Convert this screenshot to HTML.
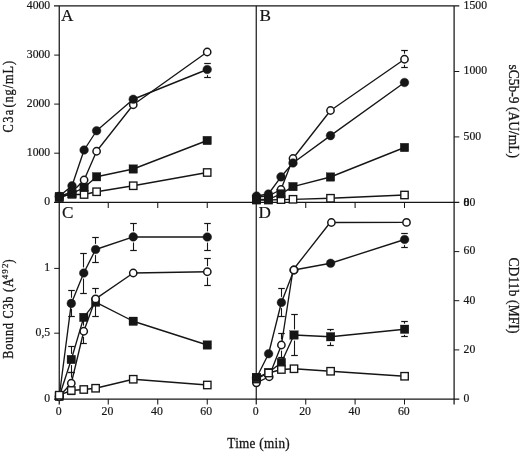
<!DOCTYPE html>
<html><head><meta charset="utf-8"><title>Figure</title>
<style>
html,body{margin:0;padding:0;background:#fff;}
svg{display:block;}
text{font-family:"Liberation Serif","DejaVu Serif",serif;fill:#161616;stroke:#161616;stroke-width:0.2px;}
text.ti{stroke-width:0.28px;}
</style></head>
<body>
<svg width="520" height="452" viewBox="0 0 520 452">
<rect x="0" y="0" width="520" height="452" fill="#fff"/>
<line x1="54.0" y1="5.95" x2="459.3" y2="5.95" stroke="#161616" stroke-width="1.2"/>
<line x1="54.0" y1="202.4" x2="459.3" y2="202.4" stroke="#161616" stroke-width="1.2"/>
<line x1="54.0" y1="399.1" x2="459.3" y2="399.1" stroke="#161616" stroke-width="1.2"/>
<line x1="59.25" y1="5.95" x2="59.25" y2="404.5" stroke="#161616" stroke-width="1.25"/>
<line x1="256.25" y1="5.95" x2="256.25" y2="404.5" stroke="#161616" stroke-width="1.2"/>
<line x1="454.1" y1="5.95" x2="454.1" y2="404.5" stroke="#161616" stroke-width="1.25"/>
<line x1="108.25" y1="202.4" x2="108.25" y2="208.0" stroke="#161616" stroke-width="1.05"/>
<line x1="108.25" y1="399.1" x2="108.25" y2="404.5" stroke="#161616" stroke-width="1.05"/>
<line x1="157.75" y1="202.4" x2="157.75" y2="208.0" stroke="#161616" stroke-width="1.05"/>
<line x1="157.75" y1="399.1" x2="157.75" y2="404.5" stroke="#161616" stroke-width="1.05"/>
<line x1="207.25" y1="202.4" x2="207.25" y2="208.0" stroke="#161616" stroke-width="1.05"/>
<line x1="207.25" y1="399.1" x2="207.25" y2="404.5" stroke="#161616" stroke-width="1.05"/>
<line x1="305.75" y1="202.4" x2="305.75" y2="208.0" stroke="#161616" stroke-width="1.05"/>
<line x1="305.75" y1="399.1" x2="305.75" y2="404.5" stroke="#161616" stroke-width="1.05"/>
<line x1="355.1" y1="202.4" x2="355.1" y2="208.0" stroke="#161616" stroke-width="1.05"/>
<line x1="355.1" y1="399.1" x2="355.1" y2="404.5" stroke="#161616" stroke-width="1.05"/>
<line x1="404.5" y1="202.4" x2="404.5" y2="208.0" stroke="#161616" stroke-width="1.05"/>
<line x1="404.5" y1="399.1" x2="404.5" y2="404.5" stroke="#161616" stroke-width="1.05"/>
<line x1="54.2" y1="55.1" x2="59.25" y2="55.1" stroke="#161616" stroke-width="1.0"/>
<line x1="54.2" y1="104.1" x2="59.25" y2="104.1" stroke="#161616" stroke-width="1.0"/>
<line x1="54.2" y1="153.2" x2="59.25" y2="153.2" stroke="#161616" stroke-width="1.0"/>
<line x1="54.2" y1="268.4" x2="59.25" y2="268.4" stroke="#161616" stroke-width="1.0"/>
<line x1="54.2" y1="333.2" x2="59.25" y2="333.2" stroke="#161616" stroke-width="1.0"/>
<line x1="454.1" y1="71.5" x2="459.3" y2="71.5" stroke="#161616" stroke-width="1.0"/>
<line x1="454.1" y1="136.9" x2="459.3" y2="136.9" stroke="#161616" stroke-width="1.0"/>
<line x1="454.1" y1="251.6" x2="459.3" y2="251.6" stroke="#161616" stroke-width="1.0"/>
<line x1="454.1" y1="300.7" x2="459.3" y2="300.7" stroke="#161616" stroke-width="1.0"/>
<line x1="454.1" y1="349.9" x2="459.3" y2="349.9" stroke="#161616" stroke-width="1.0"/>
<text x="50.2" y="8.55" font-size="11.7" text-anchor="end" >4000</text>
<text x="50.2" y="57.7" font-size="11.7" text-anchor="end" >3000</text>
<text x="50.2" y="106.69999999999999" font-size="11.7" text-anchor="end" >2000</text>
<text x="50.2" y="155.79999999999998" font-size="11.7" text-anchor="end" >1000</text>
<text x="50.2" y="205.0" font-size="11.7" text-anchor="end" >0</text>
<text x="50.2" y="271.0" font-size="11.7" text-anchor="end" >1</text>
<text x="50.2" y="335.8" font-size="11.7" text-anchor="end" >0,5</text>
<text x="50.2" y="401.70000000000005" font-size="11.7" text-anchor="end" >0</text>
<text x="463.6" y="8.75" font-size="11.7" text-anchor="start" >1500</text>
<text x="463.6" y="74.3" font-size="11.7" text-anchor="start" >1000</text>
<text x="463.6" y="139.70000000000002" font-size="11.7" text-anchor="start" >500</text>
<text x="463.6" y="206.10000000000002" font-size="11.7" text-anchor="start" >0</text>
<text x="463.6" y="206.10000000000002" font-size="11.7" text-anchor="start" >80</text>
<text x="463.6" y="254.4" font-size="11.7" text-anchor="start" >60</text>
<text x="463.6" y="303.5" font-size="11.7" text-anchor="start" >40</text>
<text x="463.6" y="352.7" font-size="11.7" text-anchor="start" >20</text>
<text x="463.6" y="401.90000000000003" font-size="11.7" text-anchor="start" >0</text>
<text x="58.75" y="414.8" font-size="11.8" text-anchor="middle" >0</text>
<text x="107.4" y="414.8" font-size="11.8" text-anchor="middle" >20</text>
<text x="156.9" y="414.8" font-size="11.8" text-anchor="middle" >40</text>
<text x="206.2" y="414.8" font-size="11.8" text-anchor="middle" >60</text>
<text x="255.75" y="414.8" font-size="11.8" text-anchor="middle" >0</text>
<text x="305.1" y="414.8" font-size="11.8" text-anchor="middle" >20</text>
<text x="354.4" y="414.8" font-size="11.8" text-anchor="middle" >40</text>
<text x="403.8" y="414.8" font-size="11.8" text-anchor="middle" >60</text>
<text x="61.0" y="20.6" font-size="17.2" text-anchor="start" >A</text>
<text x="259.6" y="20.6" font-size="17.2" text-anchor="start" >B</text>
<text x="62.0" y="217.5" font-size="17.2" text-anchor="start" >C</text>
<text x="258.4" y="218.0" font-size="17.2" text-anchor="start" >D</text>
<text class="ti" transform="translate(227.3,448.1) scale(1,1.09)" font-size="13.2" textLength="62.4" lengthAdjust="spacing">Time (min)</text>
<text class="ti" transform="translate(12.5,132.6) rotate(-90) scale(1,1.17)" font-size="12.3" textLength="22.9" lengthAdjust="spacing">C3a</text>
<text class="ti" transform="translate(12.5,107.6) rotate(-90) scale(1,1.17)" font-size="12.3" textLength="46.8" lengthAdjust="spacing">(ng/mL)</text>
<text class="ti" transform="translate(12.5,358.75) rotate(-90) scale(1,1.17)" font-size="12.3" textLength="80.4" lengthAdjust="spacing">Bound C3b (A</text>
<text transform="translate(8.1,279.2) rotate(-90)" font-size="9" textLength="15.6" lengthAdjust="spacing">492</text>
<text class="ti" transform="translate(12.5,263.4) rotate(-90) scale(1,1.17)" font-size="12.3">)</text>
<text class="ti" transform="translate(508.75,64.4) rotate(90) scale(1,1.02)" font-size="13.5" textLength="93.7" lengthAdjust="spacing">sC5b-9 (AU/mL)</text>
<text class="ti" transform="translate(508.75,257.5) rotate(90) scale(1,1.02)" font-size="13.5" textLength="76" lengthAdjust="spacing">CD11b (MFI)</text>
<polyline points="59.3,196.5 72.0,194.3 84.1,194.5 96.6,191.75 133.25,185.75 207.2,172.5" fill="none" stroke="#161616" stroke-width="1.35" stroke-linejoin="round"/>
<rect x="55.599999999999994" y="192.8" width="7.4" height="7.4" fill="#fff" stroke="#161616" stroke-width="1.35"/>
<rect x="68.3" y="190.60000000000002" width="7.4" height="7.4" fill="#fff" stroke="#161616" stroke-width="1.35"/>
<rect x="80.39999999999999" y="190.8" width="7.4" height="7.4" fill="#fff" stroke="#161616" stroke-width="1.35"/>
<rect x="92.89999999999999" y="188.05" width="7.4" height="7.4" fill="#fff" stroke="#161616" stroke-width="1.35"/>
<rect x="129.55" y="182.05" width="7.4" height="7.4" fill="#fff" stroke="#161616" stroke-width="1.35"/>
<rect x="203.5" y="168.8" width="7.4" height="7.4" fill="#fff" stroke="#161616" stroke-width="1.35"/>
<polyline points="59.3,196.5 72.0,192.0 84.1,180.0 96.6,151.25 133.25,104.75 207.2,52.0" fill="none" stroke="#161616" stroke-width="1.35" stroke-linejoin="round"/>
<circle cx="59.3" cy="196.5" r="3.6499999999999995" fill="#fff" stroke="#161616" stroke-width="1.5"/>
<circle cx="72.0" cy="192.0" r="3.6499999999999995" fill="#fff" stroke="#161616" stroke-width="1.5"/>
<circle cx="84.1" cy="180.0" r="3.6499999999999995" fill="#fff" stroke="#161616" stroke-width="1.5"/>
<circle cx="96.6" cy="151.25" r="3.6499999999999995" fill="#fff" stroke="#161616" stroke-width="1.5"/>
<circle cx="133.25" cy="104.75" r="3.6499999999999995" fill="#fff" stroke="#161616" stroke-width="1.5"/>
<circle cx="207.2" cy="52.0" r="3.6499999999999995" fill="#fff" stroke="#161616" stroke-width="1.5"/>
<polyline points="59.3,196.25 72.0,185.75 84.1,150.0 96.6,130.75 133.25,99.25 207.2,69.5" fill="none" stroke="#161616" stroke-width="1.35" stroke-linejoin="round"/>
<line x1="207.5" y1="63.5" x2="207.5" y2="63.9" stroke="#161616" stroke-width="1.1"/>
<line x1="207.5" y1="75.1" x2="207.5" y2="77.5" stroke="#161616" stroke-width="1.1"/>
<line x1="204.2" y1="63.5" x2="210.8" y2="63.5" stroke="#161616" stroke-width="1.2"/>
<line x1="204.2" y1="77.5" x2="210.8" y2="77.5" stroke="#161616" stroke-width="1.2"/>
<circle cx="59.3" cy="196.25" r="4.35" fill="#161616" stroke="#161616" stroke-width="0.4"/>
<circle cx="72.0" cy="185.75" r="4.35" fill="#161616" stroke="#161616" stroke-width="0.4"/>
<circle cx="84.1" cy="150.0" r="4.35" fill="#161616" stroke="#161616" stroke-width="0.4"/>
<circle cx="96.6" cy="130.75" r="4.35" fill="#161616" stroke="#161616" stroke-width="0.4"/>
<circle cx="133.25" cy="99.25" r="4.35" fill="#161616" stroke="#161616" stroke-width="0.4"/>
<circle cx="207.2" cy="69.5" r="4.35" fill="#161616" stroke="#161616" stroke-width="0.4"/>
<polyline points="59.3,197.6 72.0,193.6 84.1,187.5 96.6,176.75 133.25,169.0 207.2,140.5" fill="none" stroke="#161616" stroke-width="1.35" stroke-linejoin="round"/>
<rect x="55.05" y="193.35" width="8.5" height="8.5" fill="#161616" stroke="#161616" stroke-width="0.3"/>
<rect x="67.75" y="189.35" width="8.5" height="8.5" fill="#161616" stroke="#161616" stroke-width="0.3"/>
<rect x="79.85" y="183.25" width="8.5" height="8.5" fill="#161616" stroke="#161616" stroke-width="0.3"/>
<rect x="92.35" y="172.5" width="8.5" height="8.5" fill="#161616" stroke="#161616" stroke-width="0.3"/>
<rect x="129.0" y="164.75" width="8.5" height="8.5" fill="#161616" stroke="#161616" stroke-width="0.3"/>
<rect x="202.95" y="136.25" width="8.5" height="8.5" fill="#161616" stroke="#161616" stroke-width="0.3"/>
<polyline points="256.5,200.0 268.4,200.0 281.0,199.6 293.0,199.3 330.5,198.25 404.5,195.0" fill="none" stroke="#161616" stroke-width="1.35" stroke-linejoin="round"/>
<rect x="252.8" y="196.3" width="7.4" height="7.4" fill="#fff" stroke="#161616" stroke-width="1.35"/>
<rect x="264.7" y="196.3" width="7.4" height="7.4" fill="#fff" stroke="#161616" stroke-width="1.35"/>
<rect x="277.3" y="195.9" width="7.4" height="7.4" fill="#fff" stroke="#161616" stroke-width="1.35"/>
<rect x="289.3" y="195.60000000000002" width="7.4" height="7.4" fill="#fff" stroke="#161616" stroke-width="1.35"/>
<rect x="326.8" y="194.55" width="7.4" height="7.4" fill="#fff" stroke="#161616" stroke-width="1.35"/>
<rect x="400.8" y="191.3" width="7.4" height="7.4" fill="#fff" stroke="#161616" stroke-width="1.35"/>
<polyline points="256.5,197.0 268.4,196.0 281.0,189.5 293.0,158.5 330.5,110.5 404.5,59.25" fill="none" stroke="#161616" stroke-width="1.35" stroke-linejoin="round"/>
<line x1="404.5" y1="50.5" x2="404.5" y2="53.65" stroke="#161616" stroke-width="1.1"/>
<line x1="404.5" y1="64.85" x2="404.5" y2="67.5" stroke="#161616" stroke-width="1.1"/>
<line x1="401.2" y1="50.5" x2="407.8" y2="50.5" stroke="#161616" stroke-width="1.2"/>
<line x1="401.2" y1="67.5" x2="407.8" y2="67.5" stroke="#161616" stroke-width="1.2"/>
<circle cx="256.5" cy="197.0" r="3.6499999999999995" fill="#fff" stroke="#161616" stroke-width="1.5"/>
<circle cx="268.4" cy="196.0" r="3.6499999999999995" fill="#fff" stroke="#161616" stroke-width="1.5"/>
<circle cx="281.0" cy="189.5" r="3.6499999999999995" fill="#fff" stroke="#161616" stroke-width="1.5"/>
<circle cx="293.0" cy="158.5" r="3.6499999999999995" fill="#fff" stroke="#161616" stroke-width="1.5"/>
<circle cx="330.5" cy="110.5" r="3.6499999999999995" fill="#fff" stroke="#161616" stroke-width="1.5"/>
<circle cx="404.5" cy="59.25" r="3.6499999999999995" fill="#fff" stroke="#161616" stroke-width="1.5"/>
<polyline points="256.5,196.0 268.4,194.0 281.0,176.8 293.0,163.0 330.5,135.6 404.5,82.5" fill="none" stroke="#161616" stroke-width="1.35" stroke-linejoin="round"/>
<circle cx="256.5" cy="196.0" r="4.35" fill="#161616" stroke="#161616" stroke-width="0.4"/>
<circle cx="268.4" cy="194.0" r="4.35" fill="#161616" stroke="#161616" stroke-width="0.4"/>
<circle cx="281.0" cy="176.8" r="4.35" fill="#161616" stroke="#161616" stroke-width="0.4"/>
<circle cx="293.0" cy="163.0" r="4.35" fill="#161616" stroke="#161616" stroke-width="0.4"/>
<circle cx="330.5" cy="135.6" r="4.35" fill="#161616" stroke="#161616" stroke-width="0.4"/>
<circle cx="404.5" cy="82.5" r="4.35" fill="#161616" stroke="#161616" stroke-width="0.4"/>
<polyline points="256.5,199.5 268.4,199.5 281.0,193.8 293.0,186.6 330.5,177.0 404.5,147.5" fill="none" stroke="#161616" stroke-width="1.35" stroke-linejoin="round"/>
<rect x="252.25" y="195.25" width="8.5" height="8.5" fill="#161616" stroke="#161616" stroke-width="0.3"/>
<rect x="264.15" y="195.25" width="8.5" height="8.5" fill="#161616" stroke="#161616" stroke-width="0.3"/>
<rect x="276.75" y="189.55" width="8.5" height="8.5" fill="#161616" stroke="#161616" stroke-width="0.3"/>
<rect x="288.75" y="182.35" width="8.5" height="8.5" fill="#161616" stroke="#161616" stroke-width="0.3"/>
<rect x="326.25" y="172.75" width="8.5" height="8.5" fill="#161616" stroke="#161616" stroke-width="0.3"/>
<rect x="400.25" y="143.25" width="8.5" height="8.5" fill="#161616" stroke="#161616" stroke-width="0.3"/>
<polyline points="59.25,396.5 71.3,359.5 83.75,317.4 95.6,302.2 133.25,321.25 207.3,345.0" fill="none" stroke="#161616" stroke-width="1.35" stroke-linejoin="round"/>
<line x1="71.5" y1="346.5" x2="71.5" y2="353.9" stroke="#161616" stroke-width="1.1"/>
<line x1="71.5" y1="365.1" x2="71.5" y2="372.5" stroke="#161616" stroke-width="1.1"/>
<line x1="68.2" y1="346.5" x2="74.8" y2="346.5" stroke="#161616" stroke-width="1.2"/>
<line x1="68.2" y1="372.5" x2="74.8" y2="372.5" stroke="#161616" stroke-width="1.2"/>
<rect x="55.0" y="392.25" width="8.5" height="8.5" fill="#161616" stroke="#161616" stroke-width="0.3"/>
<rect x="67.05" y="355.25" width="8.5" height="8.5" fill="#161616" stroke="#161616" stroke-width="0.3"/>
<rect x="79.5" y="313.15" width="8.5" height="8.5" fill="#161616" stroke="#161616" stroke-width="0.3"/>
<rect x="91.35" y="297.95" width="8.5" height="8.5" fill="#161616" stroke="#161616" stroke-width="0.3"/>
<rect x="129.0" y="317.0" width="8.5" height="8.5" fill="#161616" stroke="#161616" stroke-width="0.3"/>
<rect x="203.05" y="340.75" width="8.5" height="8.5" fill="#161616" stroke="#161616" stroke-width="0.3"/>
<polyline points="59.25,396.5 71.3,303.4 83.75,273.0 95.6,249.5 133.25,236.9 207.3,237.0" fill="none" stroke="#161616" stroke-width="1.35" stroke-linejoin="round"/>
<line x1="71.5" y1="290.5" x2="71.5" y2="297.79999999999995" stroke="#161616" stroke-width="1.1"/>
<line x1="71.5" y1="309.0" x2="71.5" y2="316.5" stroke="#161616" stroke-width="1.1"/>
<line x1="68.2" y1="290.5" x2="74.8" y2="290.5" stroke="#161616" stroke-width="1.2"/>
<line x1="68.2" y1="316.5" x2="74.8" y2="316.5" stroke="#161616" stroke-width="1.2"/>
<line x1="83.5" y1="253.5" x2="83.5" y2="267.4" stroke="#161616" stroke-width="1.1"/>
<line x1="83.5" y1="278.6" x2="83.5" y2="293.5" stroke="#161616" stroke-width="1.1"/>
<line x1="80.2" y1="253.5" x2="86.8" y2="253.5" stroke="#161616" stroke-width="1.2"/>
<line x1="80.2" y1="293.5" x2="86.8" y2="293.5" stroke="#161616" stroke-width="1.2"/>
<line x1="95.5" y1="237.5" x2="95.5" y2="243.9" stroke="#161616" stroke-width="1.1"/>
<line x1="95.5" y1="255.1" x2="95.5" y2="262.5" stroke="#161616" stroke-width="1.1"/>
<line x1="92.2" y1="237.5" x2="98.8" y2="237.5" stroke="#161616" stroke-width="1.2"/>
<line x1="92.2" y1="262.5" x2="98.8" y2="262.5" stroke="#161616" stroke-width="1.2"/>
<line x1="133.5" y1="223.5" x2="133.5" y2="231.3" stroke="#161616" stroke-width="1.1"/>
<line x1="133.5" y1="242.5" x2="133.5" y2="250.5" stroke="#161616" stroke-width="1.1"/>
<line x1="130.2" y1="223.5" x2="136.8" y2="223.5" stroke="#161616" stroke-width="1.2"/>
<line x1="130.2" y1="250.5" x2="136.8" y2="250.5" stroke="#161616" stroke-width="1.2"/>
<line x1="207.5" y1="223.5" x2="207.5" y2="231.4" stroke="#161616" stroke-width="1.1"/>
<line x1="207.5" y1="242.6" x2="207.5" y2="250.5" stroke="#161616" stroke-width="1.1"/>
<line x1="204.2" y1="223.5" x2="210.8" y2="223.5" stroke="#161616" stroke-width="1.2"/>
<line x1="204.2" y1="250.5" x2="210.8" y2="250.5" stroke="#161616" stroke-width="1.2"/>
<circle cx="59.25" cy="396.5" r="4.35" fill="#161616" stroke="#161616" stroke-width="0.4"/>
<circle cx="71.3" cy="303.4" r="4.35" fill="#161616" stroke="#161616" stroke-width="0.4"/>
<circle cx="83.75" cy="273.0" r="4.35" fill="#161616" stroke="#161616" stroke-width="0.4"/>
<circle cx="95.6" cy="249.5" r="4.35" fill="#161616" stroke="#161616" stroke-width="0.4"/>
<circle cx="133.25" cy="236.9" r="4.35" fill="#161616" stroke="#161616" stroke-width="0.4"/>
<circle cx="207.3" cy="237.0" r="4.35" fill="#161616" stroke="#161616" stroke-width="0.4"/>
<polyline points="59.25,396.5 71.3,383.25 83.75,331.25 95.6,298.9 133.25,273.0 207.3,271.75" fill="none" stroke="#161616" stroke-width="1.35" stroke-linejoin="round"/>
<line x1="71.5" y1="372.5" x2="71.5" y2="377.65" stroke="#161616" stroke-width="1.1"/>
<line x1="71.5" y1="388.85" x2="71.5" y2="394.5" stroke="#161616" stroke-width="1.1"/>
<line x1="68.2" y1="372.5" x2="74.8" y2="372.5" stroke="#161616" stroke-width="1.2"/>
<line x1="68.2" y1="394.5" x2="74.8" y2="394.5" stroke="#161616" stroke-width="1.2"/>
<line x1="83.5" y1="319.5" x2="83.5" y2="325.65" stroke="#161616" stroke-width="1.1"/>
<line x1="83.5" y1="336.85" x2="83.5" y2="343.5" stroke="#161616" stroke-width="1.1"/>
<line x1="80.2" y1="319.5" x2="86.8" y2="319.5" stroke="#161616" stroke-width="1.2"/>
<line x1="80.2" y1="343.5" x2="86.8" y2="343.5" stroke="#161616" stroke-width="1.2"/>
<line x1="95.5" y1="288.5" x2="95.5" y2="293.29999999999995" stroke="#161616" stroke-width="1.1"/>
<line x1="95.5" y1="304.5" x2="95.5" y2="316.5" stroke="#161616" stroke-width="1.1"/>
<line x1="92.2" y1="288.5" x2="98.8" y2="288.5" stroke="#161616" stroke-width="1.2"/>
<line x1="92.2" y1="316.5" x2="98.8" y2="316.5" stroke="#161616" stroke-width="1.2"/>
<line x1="207.5" y1="258.5" x2="207.5" y2="266.15" stroke="#161616" stroke-width="1.1"/>
<line x1="207.5" y1="277.35" x2="207.5" y2="285.5" stroke="#161616" stroke-width="1.1"/>
<line x1="204.2" y1="258.5" x2="210.8" y2="258.5" stroke="#161616" stroke-width="1.2"/>
<line x1="204.2" y1="285.5" x2="210.8" y2="285.5" stroke="#161616" stroke-width="1.2"/>
<circle cx="59.25" cy="396.5" r="3.6499999999999995" fill="#fff" stroke="#161616" stroke-width="1.5"/>
<circle cx="71.3" cy="383.25" r="3.6499999999999995" fill="#fff" stroke="#161616" stroke-width="1.5"/>
<circle cx="83.75" cy="331.25" r="3.6499999999999995" fill="#fff" stroke="#161616" stroke-width="1.5"/>
<circle cx="95.6" cy="298.9" r="3.6499999999999995" fill="#fff" stroke="#161616" stroke-width="1.5"/>
<circle cx="133.25" cy="273.0" r="3.6499999999999995" fill="#fff" stroke="#161616" stroke-width="1.5"/>
<circle cx="207.3" cy="271.75" r="3.6499999999999995" fill="#fff" stroke="#161616" stroke-width="1.5"/>
<polyline points="59.25,395.2 71.3,390.5 83.75,389.5 95.6,388.25 133.25,379.25 207.3,385.0" fill="none" stroke="#161616" stroke-width="1.35" stroke-linejoin="round"/>
<rect x="55.55" y="391.5" width="7.4" height="7.4" fill="#fff" stroke="#161616" stroke-width="1.35"/>
<rect x="67.6" y="386.8" width="7.4" height="7.4" fill="#fff" stroke="#161616" stroke-width="1.35"/>
<rect x="80.05" y="385.8" width="7.4" height="7.4" fill="#fff" stroke="#161616" stroke-width="1.35"/>
<rect x="91.89999999999999" y="384.55" width="7.4" height="7.4" fill="#fff" stroke="#161616" stroke-width="1.35"/>
<rect x="129.55" y="375.55" width="7.4" height="7.4" fill="#fff" stroke="#161616" stroke-width="1.35"/>
<rect x="203.60000000000002" y="381.3" width="7.4" height="7.4" fill="#fff" stroke="#161616" stroke-width="1.35"/>
<polyline points="256.4,378.0 268.6,353.75 281.4,302.5 294.0,270.0 330.6,263.25 404.6,239.5" fill="none" stroke="#161616" stroke-width="1.35" stroke-linejoin="round"/>
<line x1="281.5" y1="288.5" x2="281.5" y2="296.9" stroke="#161616" stroke-width="1.1"/>
<line x1="281.5" y1="308.1" x2="281.5" y2="316.5" stroke="#161616" stroke-width="1.1"/>
<line x1="278.2" y1="288.5" x2="284.8" y2="288.5" stroke="#161616" stroke-width="1.2"/>
<line x1="278.2" y1="316.5" x2="284.8" y2="316.5" stroke="#161616" stroke-width="1.2"/>
<line x1="404.5" y1="233.5" x2="404.5" y2="233.9" stroke="#161616" stroke-width="1.1"/>
<line x1="404.5" y1="245.1" x2="404.5" y2="247.5" stroke="#161616" stroke-width="1.1"/>
<line x1="401.2" y1="233.5" x2="407.8" y2="233.5" stroke="#161616" stroke-width="1.2"/>
<line x1="401.2" y1="247.5" x2="407.8" y2="247.5" stroke="#161616" stroke-width="1.2"/>
<circle cx="256.4" cy="378.0" r="4.35" fill="#161616" stroke="#161616" stroke-width="0.4"/>
<circle cx="268.6" cy="353.75" r="4.35" fill="#161616" stroke="#161616" stroke-width="0.4"/>
<circle cx="281.4" cy="302.5" r="4.35" fill="#161616" stroke="#161616" stroke-width="0.4"/>
<circle cx="294.0" cy="270.0" r="4.35" fill="#161616" stroke="#161616" stroke-width="0.4"/>
<circle cx="330.6" cy="263.25" r="4.35" fill="#161616" stroke="#161616" stroke-width="0.4"/>
<circle cx="404.6" cy="239.5" r="4.35" fill="#161616" stroke="#161616" stroke-width="0.4"/>
<polyline points="256.4,382.8 269.0,376.75 281.4,345.0 293.0,270.0 330.2,222.5 406.4,222.4" fill="none" stroke="#161616" stroke-width="1.35" stroke-linejoin="round"/>
<line x1="281.5" y1="333.5" x2="281.5" y2="339.4" stroke="#161616" stroke-width="1.1"/>
<line x1="281.5" y1="350.6" x2="281.5" y2="357.5" stroke="#161616" stroke-width="1.1"/>
<line x1="278.2" y1="333.5" x2="284.8" y2="333.5" stroke="#161616" stroke-width="1.2"/>
<line x1="278.2" y1="357.5" x2="284.8" y2="357.5" stroke="#161616" stroke-width="1.2"/>
<circle cx="256.4" cy="382.8" r="3.6499999999999995" fill="#fff" stroke="#161616" stroke-width="1.5"/>
<circle cx="269.2" cy="376.75" r="3.6499999999999995" fill="#fff" stroke="#161616" stroke-width="1.5"/>
<circle cx="281.4" cy="345.0" r="3.6499999999999995" fill="#fff" stroke="#161616" stroke-width="1.5"/>
<circle cx="293.9" cy="270.0" r="3.6499999999999995" fill="#fff" stroke="#161616" stroke-width="1.5"/>
<circle cx="331.4" cy="222.5" r="3.6499999999999995" fill="#fff" stroke="#161616" stroke-width="1.5"/>
<circle cx="406.5" cy="222.4" r="3.6499999999999995" fill="#fff" stroke="#161616" stroke-width="1.5"/>
<polyline points="256.4,377.6 268.6,372.5 281.4,362.5 294.0,335.0 330.6,336.75 404.6,329.25" fill="none" stroke="#161616" stroke-width="1.35" stroke-linejoin="round"/>
<line x1="294.5" y1="314.5" x2="294.5" y2="329.4" stroke="#161616" stroke-width="1.1"/>
<line x1="294.5" y1="340.6" x2="294.5" y2="355.5" stroke="#161616" stroke-width="1.1"/>
<line x1="291.2" y1="314.5" x2="297.8" y2="314.5" stroke="#161616" stroke-width="1.2"/>
<line x1="291.2" y1="355.5" x2="297.8" y2="355.5" stroke="#161616" stroke-width="1.2"/>
<line x1="330.5" y1="329.5" x2="330.5" y2="331.15" stroke="#161616" stroke-width="1.1"/>
<line x1="330.5" y1="342.35" x2="330.5" y2="345.5" stroke="#161616" stroke-width="1.1"/>
<line x1="327.2" y1="329.5" x2="333.8" y2="329.5" stroke="#161616" stroke-width="1.2"/>
<line x1="327.2" y1="345.5" x2="333.8" y2="345.5" stroke="#161616" stroke-width="1.2"/>
<line x1="404.5" y1="321.5" x2="404.5" y2="323.65" stroke="#161616" stroke-width="1.1"/>
<line x1="404.5" y1="334.85" x2="404.5" y2="336.5" stroke="#161616" stroke-width="1.1"/>
<line x1="401.2" y1="321.5" x2="407.8" y2="321.5" stroke="#161616" stroke-width="1.2"/>
<line x1="401.2" y1="336.5" x2="407.8" y2="336.5" stroke="#161616" stroke-width="1.2"/>
<rect x="252.14999999999998" y="373.35" width="8.5" height="8.5" fill="#161616" stroke="#161616" stroke-width="0.3"/>
<rect x="264.35" y="368.25" width="8.5" height="8.5" fill="#161616" stroke="#161616" stroke-width="0.3"/>
<rect x="277.15" y="358.25" width="8.5" height="8.5" fill="#161616" stroke="#161616" stroke-width="0.3"/>
<rect x="289.75" y="330.75" width="8.5" height="8.5" fill="#161616" stroke="#161616" stroke-width="0.3"/>
<rect x="326.35" y="332.5" width="8.5" height="8.5" fill="#161616" stroke="#161616" stroke-width="0.3"/>
<rect x="400.35" y="325.0" width="8.5" height="8.5" fill="#161616" stroke="#161616" stroke-width="0.3"/>
<polyline points="256.4,379.0 268.6,373.0 281.4,369.5 294.0,368.75 330.6,371.25 404.6,376.25" fill="none" stroke="#161616" stroke-width="1.35" stroke-linejoin="round"/>
<rect x="252.7" y="375.3" width="7.4" height="7.4" fill="#fff" stroke="#161616" stroke-width="1.35"/>
<rect x="264.90000000000003" y="369.3" width="7.4" height="7.4" fill="#fff" stroke="#161616" stroke-width="1.35"/>
<rect x="277.7" y="365.8" width="7.4" height="7.4" fill="#fff" stroke="#161616" stroke-width="1.35"/>
<rect x="290.3" y="365.05" width="7.4" height="7.4" fill="#fff" stroke="#161616" stroke-width="1.35"/>
<rect x="326.90000000000003" y="367.55" width="7.4" height="7.4" fill="#fff" stroke="#161616" stroke-width="1.35"/>
<rect x="400.90000000000003" y="372.55" width="7.4" height="7.4" fill="#fff" stroke="#161616" stroke-width="1.35"/>
<rect x="252.14999999999998" y="373.35" width="8.5" height="8.5" fill="#161616" stroke="#161616" stroke-width="0.3"/>
</svg>
</body></html>
